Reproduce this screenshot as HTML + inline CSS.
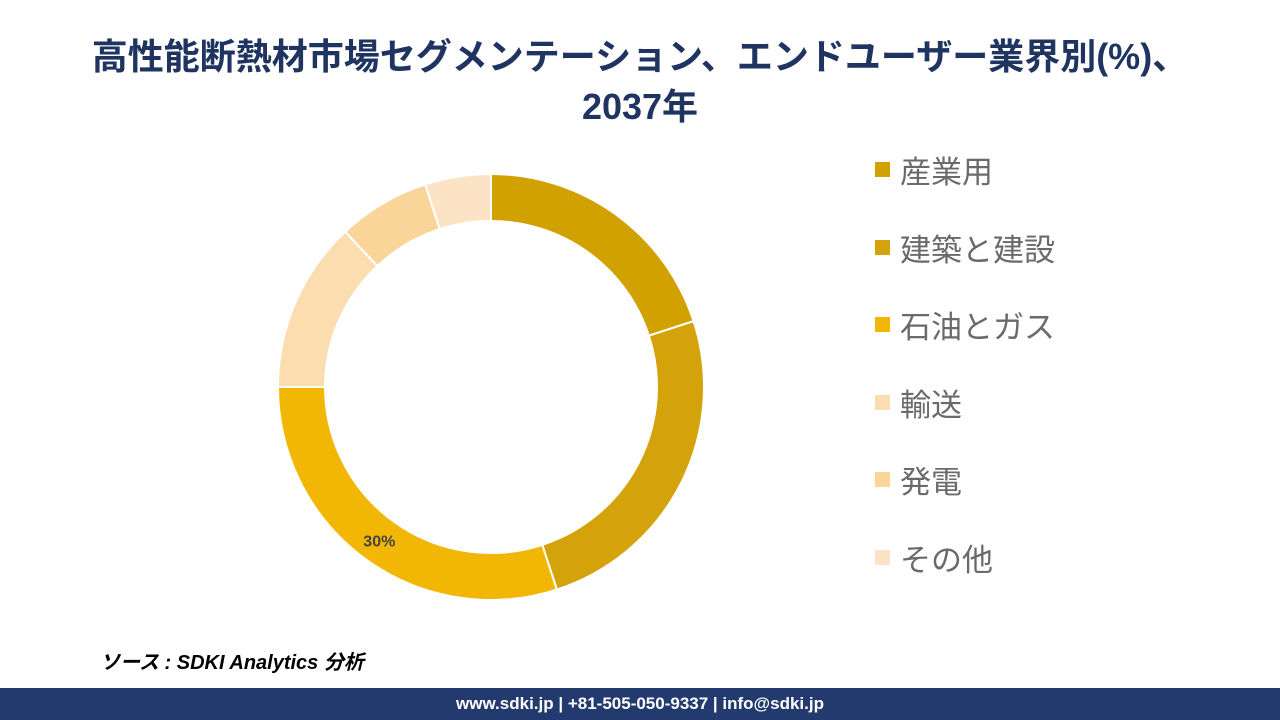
<!DOCTYPE html>
<html><head><meta charset="utf-8">
<style>
body{margin:0;width:1280px;height:720px;background:#fff;position:relative;overflow:hidden;font-family:"Liberation Sans","Noto Sans CJK JP",sans-serif;}
#title{position:absolute;top:32px;left:0;width:1280px;text-align:center;color:#1F3461;font-size:36px;font-weight:bold;line-height:50px;}
#legend{position:absolute;left:875px;top:147px;}
.li{height:77.5px;display:flex;align-items:flex-start;font-size:31px;color:#6a6a6a;}
.sw{width:15px;height:15px;margin-right:10px;margin-top:15px;}
#src{position:absolute;left:100px;top:646px;font-size:20px;font-style:italic;font-weight:bold;color:#000;}
#foot{position:absolute;left:0;top:688px;width:1280px;height:32px;background:#233A6E;color:#fff;font-size:17px;font-weight:bold;text-align:center;line-height:32px;}
</style></head><body>
<div id="title">高性能断熱材市場セグメンテーション、エンドユーザー業界別(%)、<br>2037年</div>
<svg id="chart" width="1280" height="720" style="position:absolute;left:0;top:0"></svg>
<div id="legend"></div>
<div id="src">ソース : SDKI Analytics 分析</div>
<div id="foot">www.sdki.jp | +81-505-050-9337 | info@sdki.jp</div>
<script>
const categories=["産業用","建築と建設","石油とガス","輸送","発電","その他"];
const values=[20,25,30,13,7,5];
const labels=["","","30%","","",""];
const colors=["#D1A100","#D4A20A","#F2B705","#FBDDB0","#FAD59A","#FCE3C6"];
const cx=491,cy=387,R=213,r=166;
const svg=document.getElementById('chart');
const ns="http://www.w3.org/2000/svg";
const total=values.reduce((a,b)=>a+b,0);
function pt(a,rad){return [cx+rad*Math.sin(a),cy-rad*Math.cos(a)];}
let acc=0;
values.forEach((v,i)=>{
  const a0=acc/total*2*Math.PI,a1=(acc+v)/total*2*Math.PI;acc+=v;
  const large=(a1-a0)>Math.PI?1:0;
  const [x0,y0]=pt(a0,R),[x1,y1]=pt(a1,R),[x2,y2]=pt(a1,r),[x3,y3]=pt(a0,r);
  const p=document.createElementNS(ns,'path');
  p.setAttribute('d',`M${x0},${y0}A${R},${R} 0 ${large} 1 ${x1},${y1}L${x2},${y2}A${r},${r} 0 ${large} 0 ${x3},${y3}Z`);
  p.setAttribute('fill',colors[i]);p.setAttribute('stroke','#fff');p.setAttribute('stroke-width','2');
  
  
  svg.appendChild(p);
  if(labels[i]){
    const am=(a0+a1)/2;const [lx,ly]=pt(am,190);
    const t=document.createElementNS(ns,'text');
    t.setAttribute('x',lx);t.setAttribute('y',ly+6);t.setAttribute('text-anchor','middle');
    t.setAttribute('font-size','16');t.setAttribute('font-weight','bold');t.setAttribute('fill','#444');
    t.setAttribute('font-family','Liberation Sans, sans-serif');
    t.textContent=labels[i];
    
    
    svg.appendChild(t);
  }
  const li=document.createElement('div');li.className='li';
  
  
  li.innerHTML=`<div class="sw" style="background:${colors[i]}"></div><span>${categories[i]}</span>`;
  document.getElementById('legend').appendChild(li);
});
</script>
</body></html>
